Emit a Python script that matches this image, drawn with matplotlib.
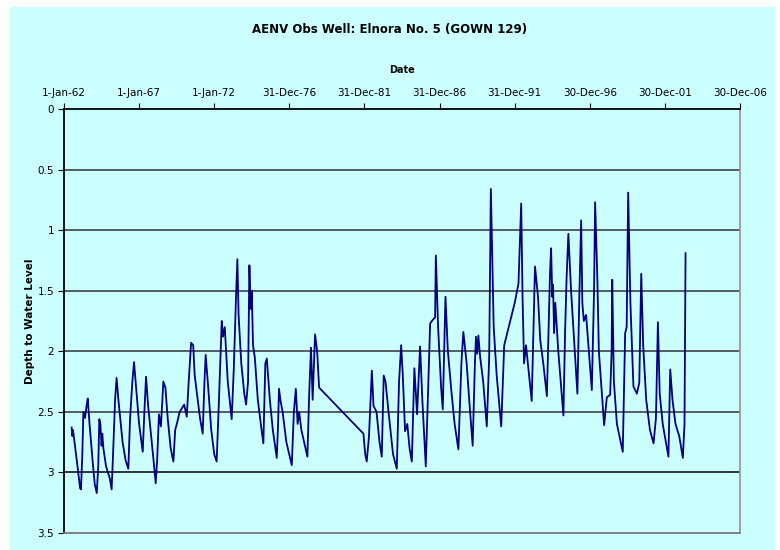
import pandas as pd
import matplotlib
matplotlib.use('Agg')
import matplotlib.pyplot as plt
from matplotlib.patches import Rectangle

# Well hydrograph, Elnora No. 5 (GOWN 129) - decimal year vs depth to water (m)
years = [
    1962.51, 1962.55, 1962.60, 1962.75, 1962.90, 1963.07, 1963.13, 1963.22, 1963.29, 1963.40,
    1963.50, 1963.58, 1963.70, 1963.90, 1964.05, 1964.18, 1964.28, 1964.35, 1964.42, 1964.50,
    1964.55, 1964.62, 1964.80, 1965.05, 1965.17, 1965.25, 1965.40, 1965.50, 1965.62, 1965.70,
    1965.90, 1966.10, 1966.28, 1966.40, 1966.55, 1966.66, 1966.80, 1967.00, 1967.24, 1967.35,
    1967.46, 1967.60, 1967.80, 1968.00, 1968.10, 1968.20, 1968.32, 1968.45, 1968.55, 1968.61,
    1968.75, 1968.90, 1969.10, 1969.28, 1969.40, 1969.55, 1969.70, 1969.85, 1970.00, 1970.17,
    1970.30, 1970.46, 1970.60, 1970.70, 1970.85, 1971.05, 1971.23, 1971.35, 1971.43, 1971.60,
    1971.80, 1972.00, 1972.16, 1972.30, 1972.50, 1972.58, 1972.70, 1972.90, 1973.16, 1973.30,
    1973.45, 1973.54, 1973.62, 1973.80, 1974.00, 1974.12, 1974.25, 1974.34, 1974.42, 1974.50,
    1974.58, 1974.70, 1974.90, 1975.15, 1975.27, 1975.40, 1975.50, 1975.70, 1975.90, 1976.16,
    1976.25, 1976.31, 1976.40, 1976.55, 1976.80, 1977.16, 1977.30, 1977.43, 1977.55, 1977.65,
    1977.80, 1978.20, 1978.32, 1978.44, 1978.55, 1978.71, 1978.85, 1978.98, 1981.93, 1982.05,
    1982.15, 1982.30, 1982.49, 1982.60, 1982.80, 1983.00, 1983.15, 1983.28, 1983.40, 1983.60,
    1983.90, 1984.15, 1984.30, 1984.44, 1984.55, 1984.70, 1984.85, 1985.00, 1985.15, 1985.32,
    1985.50, 1985.70, 1985.85, 1986.08, 1986.25, 1986.37, 1986.55, 1986.70, 1986.75, 1986.90,
    1987.10, 1987.21, 1987.39, 1987.55, 1987.80, 1988.00, 1988.25, 1988.45, 1988.58, 1988.80,
    1989.00, 1989.20, 1989.35, 1989.42, 1989.50, 1989.58, 1989.70, 1989.90, 1990.14, 1990.30,
    1990.41, 1990.50, 1990.60, 1990.80, 1991.10, 1991.30, 1991.60, 1992.00, 1992.25, 1992.43,
    1992.52, 1992.62, 1992.75, 1993.13, 1993.35, 1993.55, 1993.70, 1993.90, 1994.14, 1994.35,
    1994.42, 1994.50, 1994.55, 1994.62, 1994.70, 1994.90, 1995.24, 1995.35, 1995.45, 1995.57,
    1995.75, 1995.90, 1996.17, 1996.30, 1996.42, 1996.50, 1996.60, 1996.75, 1997.13, 1997.28,
    1997.35, 1997.50, 1997.60, 1997.80, 1997.95, 1998.13, 1998.35, 1998.45, 1998.49, 1998.60,
    1998.80, 1999.19, 1999.35, 1999.45, 1999.55, 1999.70, 1999.90, 2000.13, 2000.29, 2000.42,
    2000.55, 2000.75, 2001.00, 2001.24, 2001.40, 2001.53, 2001.65, 2001.85, 2002.23, 2002.35,
    2002.50, 2002.70, 2002.95, 2003.19, 2003.30, 2003.37,
]
depth = [
    2.63, 2.70, 2.65, 2.80, 2.95, 3.13, 3.14, 2.85, 2.50, 2.55,
    2.45, 2.39, 2.60, 2.90, 3.10, 3.17, 2.95, 2.56, 2.60, 2.78,
    2.68, 2.80, 2.95, 3.05, 3.14, 2.90, 2.40, 2.22, 2.40, 2.50,
    2.75, 2.90, 2.97, 2.55, 2.25, 2.09, 2.30, 2.60, 2.83, 2.50,
    2.21, 2.45, 2.70, 2.95, 3.09, 2.90, 2.52, 2.62, 2.40, 2.25,
    2.30, 2.55, 2.80, 2.91, 2.65, 2.58, 2.50, 2.47, 2.44, 2.54,
    2.25, 1.93, 1.95, 2.20, 2.35, 2.55, 2.68, 2.25, 2.03, 2.30,
    2.65, 2.85, 2.91, 2.45, 1.75, 1.88, 1.80, 2.25, 2.56, 2.15,
    1.55, 1.24, 1.70, 2.10, 2.35, 2.44, 2.25, 1.29, 1.65, 1.50,
    1.95, 2.05, 2.40, 2.65, 2.76, 2.10, 2.06, 2.40, 2.65, 2.88,
    2.60, 2.31, 2.40, 2.50, 2.75, 2.94, 2.50, 2.31, 2.60, 2.50,
    2.65, 2.87, 2.35, 1.97, 2.40, 1.86, 2.00, 2.30, 2.68, 2.85,
    2.91, 2.70, 2.16, 2.45, 2.50, 2.75, 2.87, 2.20, 2.25, 2.50,
    2.85, 2.97, 2.25, 1.95, 2.20, 2.66, 2.60, 2.80, 2.91, 2.14,
    2.52, 1.96, 2.40, 2.95, 2.26, 1.77, 1.74, 1.72, 1.21, 1.80,
    2.30, 2.48, 1.55, 2.00, 2.35, 2.60, 2.81, 2.10, 1.84, 2.10,
    2.45, 2.78, 2.10, 1.88, 2.02, 1.87, 2.05, 2.25, 2.62, 2.05,
    0.66, 1.20, 1.80, 2.20, 2.62, 1.95, 1.80, 1.60, 1.44, 0.78,
    1.55, 2.10, 1.95, 2.41, 1.30, 1.55, 1.91, 2.10, 2.37, 1.35,
    1.15, 1.55, 1.45, 1.85, 1.60, 2.00, 2.53, 1.85, 1.40, 1.03,
    1.50, 1.80, 2.35, 1.55, 0.92, 1.60, 1.75, 1.70, 2.32, 1.50,
    0.77, 1.40, 2.00, 2.35, 2.61, 2.38, 2.36, 2.00, 1.41, 2.25,
    2.60, 2.83, 1.85, 1.80, 0.69, 1.60, 2.29, 2.35, 2.26, 1.36,
    1.95, 2.40, 2.65, 2.76, 2.55, 1.76, 2.35, 2.60, 2.87, 2.15,
    2.40, 2.60, 2.70, 2.88, 2.60, 1.19,
]

tick_dates = ['1962-01-01', '1967-01-01', '1972-01-01', '1976-12-31', '1981-12-31',
              '1986-12-31', '1991-12-31', '1996-12-30', '2001-12-30', '2006-12-30']
tick_labels = ['1-Jan-62', '1-Jan-67', '1-Jan-72', '31-Dec-76', '31-Dec-81',
               '31-Dec-86', '31-Dec-91', '30-Dec-96', '30-Dec-01', '30-Dec-06']
y_ticks = [0, 0.5, 1, 1.5, 2, 2.5, 3, 3.5]
y_labels = ['0', '0.5', '1', '1.5', '2', '2.5', '3', '3.5']

start = pd.Timestamp('1962-01-01')
dates = [start + pd.to_timedelta((y - 1962) * 365.25, unit='D') for y in years]
ticks = pd.to_datetime(tick_dates)

bg = '#CCFFFF'
fig = plt.figure(figsize=(7.8, 5.5), dpi=100)
fig.patch.set_facecolor('white')
# chart area fill behind everything
fig.patches.append(Rectangle((10 / 780, 0), 765 / 780, 1 - 7 / 550,
                             transform=fig.transFigure, facecolor=bg,
                             edgecolor='none', zorder=-5))

ax = fig.add_axes([64 / 780, 1 - 533 / 550, 676 / 780, 424 / 550])
ax.set_facecolor(bg)

ax.plot(dates, depth, color='#000080', lw=1.3, zorder=3)

ax.set_xlim(ticks[0], ticks[-1])
ax.set_ylim(3.5, 0)
ax.set_xticks(ticks)
ax.set_xticklabels(tick_labels)
ax.set_yticks(y_ticks)
ax.set_yticklabels(y_labels)
ax.xaxis.tick_top()
ax.tick_params(axis='x', direction='out', length=4, pad=4, labelsize=7.5, color='black')
ax.tick_params(axis='y', direction='out', length=4, pad=3, labelsize=7.5, color='black')

for v in y_ticks[1:-1]:
    ax.axhline(v, color='#000000' if v == 3 else '#333333', lw=1.1, zorder=1)

ax.spines['left'].set_color('black')
ax.spines['top'].set_color('black')
ax.spines['right'].set_color('#999999')
ax.spines['bottom'].set_color('#777777')
for s in ax.spines.values():
    s.set_linewidth(1.3)

fig.text(0.5, 1 - 30 / 550, 'AENV Obs Well: Elnora No. 5 (GOWN 129)',
         ha='center', va='center', fontsize=8.5, fontweight='bold')
fig.text(402 / 780, 1 - 70 / 550, 'Date', ha='center', va='center',
         fontsize=7, fontweight='bold')
fig.text(30 / 780, 1 - 321 / 550, 'Depth to Water Level', ha='center', va='center',
         rotation=90, fontsize=7.5, fontweight='bold')

fig.savefig('out.png', dpi=100, facecolor=fig.get_facecolor())
